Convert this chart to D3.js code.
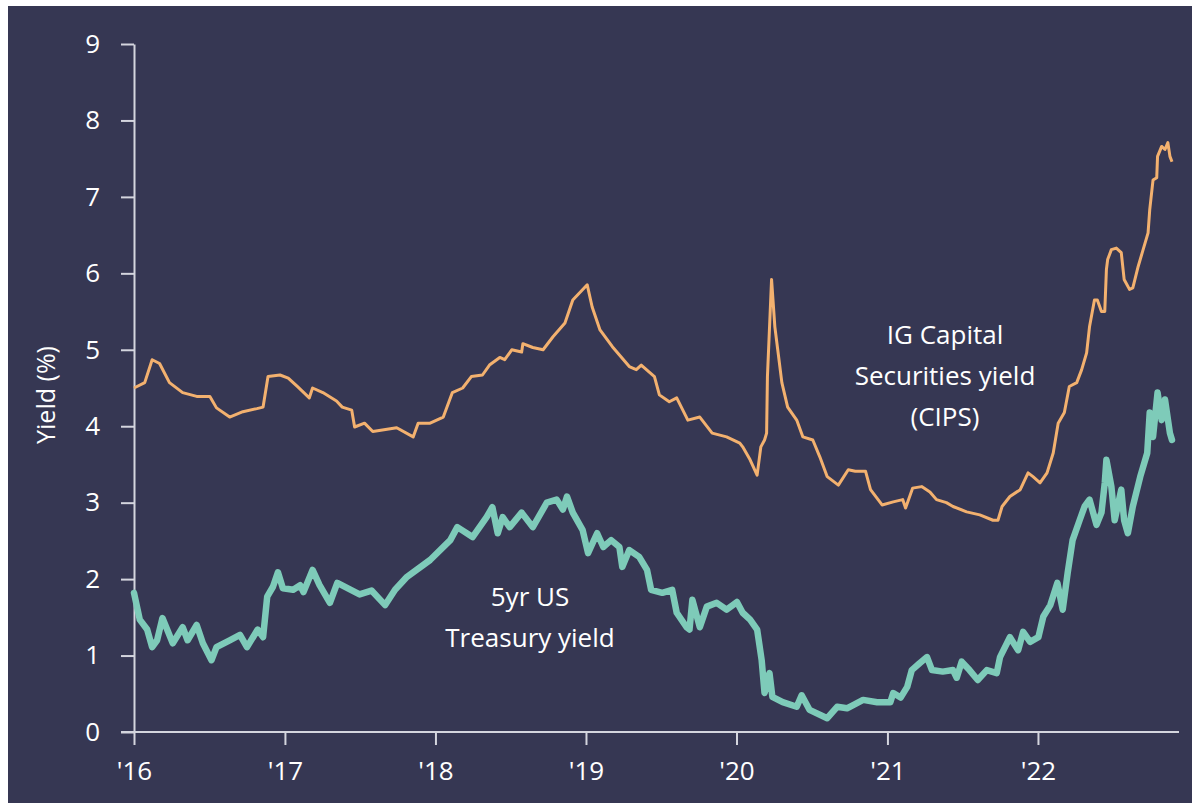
<!DOCTYPE html>
<html>
<head>
<meta charset="utf-8">
<script src="https://cdn.jsdelivr.net/npm/d3@7"></script>
<style>
  body { margin: 0; background: #ffffff; }
  text { font-family: "Open Sans", sans-serif; }
</style>
</head>
<body>
<svg id="chart" width="1192" height="803"></svg>
<script>
// IG Capital Securities yield (CIPS)
var cipsDates = ['2016-01-01','2016-01-27','2016-02-14','2016-03-03','2016-03-27','2016-04-28','2016-06-01','2016-07-03','2016-07-19','2016-08-20','2016-09-21','2016-10-25','2016-11-09','2016-11-21','2016-12-20','2017-01-09','2017-01-31','2017-03-01','2017-03-09','2017-04-03','2017-05-06','2017-05-20','2017-06-12','2017-06-19','2017-07-13','2017-08-02','2017-09-29','2017-11-08','2017-11-20','2017-12-19','2018-01-20','2018-02-11','2018-03-08','2018-03-29','2018-04-25','2018-05-12','2018-06-06','2018-06-18','2018-07-05','2018-07-29','2018-08-01','2018-08-25','2018-09-19','2018-10-13','2018-11-11','2018-11-30','2019-01-04','2019-01-16','2019-02-04','2019-03-06','2019-04-16','2019-05-03','2019-05-15','2019-06-16','2019-06-28','2019-07-22','2019-08-09','2019-09-05','2019-10-04','2019-11-03','2019-12-08','2020-01-09','2020-01-16','2020-02-03','2020-02-20','2020-02-29','2020-03-09','2020-03-14','2020-03-16','2020-03-26','2020-04-03','2020-04-10','2020-04-20','2020-05-04','2020-05-26','2020-06-10','2020-07-04','2020-07-21','2020-08-08','2020-09-04','2020-09-28','2020-10-15','2020-11-09','2020-11-21','2020-12-19','2021-01-15','2021-02-07','2021-02-14','2021-03-03','2021-03-25','2021-04-14','2021-04-30','2021-05-24','2021-06-09','2021-07-12','2021-08-13','2021-09-14','2021-09-26','2021-10-06','2021-10-25','2021-11-19','2021-12-08','2021-12-20','2022-01-06','2022-01-23','2022-02-07','2022-02-19','2022-03-06','2022-03-18','2022-04-05','2022-04-17','2022-04-29','2022-05-06','2022-05-18','2022-05-25','2022-06-04','2022-06-12','2022-06-16','2022-06-19','2022-06-28','2022-07-10','2022-07-22','2022-07-29','2022-08-11','2022-08-19','2022-09-01','2022-09-13','2022-09-25','2022-09-29','2022-10-07','2022-10-16','2022-10-18','2022-10-28','2022-11-05','2022-11-12','2022-11-17','2022-11-22'];
var cipsValues = [4.50,4.57,4.87,4.82,4.57,4.44,4.39,4.39,4.24,4.12,4.19,4.23,4.25,4.65,4.67,4.63,4.52,4.37,4.50,4.44,4.33,4.25,4.21,3.99,4.04,3.93,3.98,3.86,4.04,4.04,4.12,4.44,4.50,4.65,4.67,4.80,4.90,4.87,5.00,4.97,5.08,5.03,5.00,5.17,5.35,5.65,5.85,5.56,5.26,5.04,4.78,4.74,4.80,4.65,4.41,4.32,4.37,4.08,4.12,3.91,3.86,3.78,3.73,3.56,3.36,3.73,3.82,3.91,4.65,5.92,5.30,5.00,4.57,4.25,4.08,3.86,3.82,3.60,3.34,3.23,3.43,3.41,3.41,3.17,2.97,3.01,3.04,2.93,3.19,3.21,3.14,3.04,3.00,2.95,2.88,2.84,2.77,2.77,2.95,3.08,3.17,3.39,3.34,3.26,3.39,3.65,4.04,4.18,4.52,4.57,4.74,4.96,5.30,5.65,5.65,5.50,5.50,6.05,6.18,6.31,6.33,6.27,5.92,5.79,5.81,6.09,6.31,6.53,6.83,7.22,7.25,7.53,7.66,7.62,7.71,7.53,7.46];

// 5yr US Treasury yield
var ustDates = ['2016-01-01','2016-01-15','2016-02-02','2016-02-14','2016-02-26','2016-03-10','2016-04-04','2016-04-28','2016-05-10','2016-06-01','2016-06-16','2016-07-07','2016-07-19','2016-08-20','2016-09-14','2016-10-01','2016-10-27','2016-11-09','2016-11-19','2016-12-03','2016-12-15','2016-12-27','2017-01-21','2017-02-07','2017-02-15','2017-03-09','2017-03-26','2017-04-20','2017-05-08','2017-07-01','2017-07-30','2017-09-01','2017-09-25','2017-10-24','2017-12-19','2018-02-06','2018-02-23','2018-04-01','2018-05-05','2018-05-19','2018-06-01','2018-06-13','2018-06-30','2018-07-29','2018-08-25','2018-09-28','2018-10-22','2018-11-06','2018-11-16','2018-11-30','2018-12-24','2019-01-06','2019-01-28','2019-02-12','2019-03-03','2019-03-23','2019-03-30','2019-04-16','2019-05-10','2019-05-29','2019-06-08','2019-07-05','2019-07-29','2019-08-09','2019-09-02','2019-09-09','2019-09-16','2019-10-04','2019-10-21','2019-11-14','2019-12-08','2020-01-02','2020-01-16','2020-02-03','2020-02-20','2020-03-02','2020-03-09','2020-03-21','2020-03-28','2020-04-22','2020-05-26','2020-06-07','2020-06-26','2020-08-08','2020-09-01','2020-09-25','2020-11-03','2020-12-07','2021-01-08','2021-01-15','2021-02-02','2021-02-18','2021-03-01','2021-03-20','2021-04-07','2021-04-19','2021-05-15','2021-06-09','2021-06-18','2021-06-30','2021-07-19','2021-08-08','2021-08-30','2021-09-23','2021-10-01','2021-10-25','2021-11-14','2021-11-26','2021-12-13','2022-01-02','2022-01-14','2022-01-31','2022-02-17','2022-03-02','2022-03-14','2022-03-26','2022-04-12','2022-04-24','2022-05-06','2022-05-23','2022-06-04','2022-06-12','2022-06-16','2022-06-28','2022-07-06','2022-07-22','2022-07-29','2022-08-07','2022-08-19','2022-09-06','2022-09-23','2022-09-29','2022-10-07','2022-10-18','2022-10-28','2022-11-05','2022-11-17','2022-11-22'];
var ustValues = [1.82,1.47,1.34,1.11,1.20,1.49,1.16,1.37,1.20,1.40,1.16,0.94,1.11,1.20,1.27,1.11,1.34,1.24,1.77,1.90,2.09,1.88,1.86,1.92,1.83,2.12,1.92,1.69,1.95,1.80,1.85,1.66,1.86,2.03,2.25,2.51,2.68,2.55,2.81,2.94,2.60,2.81,2.68,2.87,2.68,3.00,3.04,2.91,3.08,2.87,2.64,2.34,2.60,2.42,2.51,2.42,2.16,2.38,2.29,2.12,1.86,1.82,1.86,1.56,1.37,1.34,1.73,1.37,1.64,1.69,1.60,1.70,1.56,1.47,1.34,0.94,0.51,0.77,0.46,0.39,0.33,0.48,0.29,0.18,0.33,0.31,0.42,0.39,0.39,0.51,0.45,0.59,0.81,0.90,0.98,0.81,0.79,0.81,0.71,0.92,0.81,0.68,0.81,0.77,0.98,1.24,1.07,1.31,1.18,1.24,1.51,1.66,1.95,1.60,2.08,2.51,2.77,2.95,3.04,2.71,2.87,3.26,3.56,3.21,2.77,3.17,2.77,2.60,2.95,3.34,3.65,4.18,3.86,4.44,4.08,4.35,3.91,3.82];

var yTicks = [0, 1, 2, 3, 4, 5, 6, 7, 8, 9];
var xTickYears = ['2016','2017','2018','2019','2020','2021','2022'];

var svg = d3.select('#chart');
var parse = d3.timeParse('%Y-%m-%d');

// navy panel (picture has a thin white strip top and left)
svg.append('rect').attr('x', 8).attr('y', 6).attr('width', 1184).attr('height', 797).attr('fill', '#363753');

var x = d3.scaleTime()
  .domain([parse('2016-01-01'), parse('2022-12-09')])
  .range([134, 1179]);
var y = d3.scaleLinear().domain([0, 9]).range([732, 44]);

function pairs(dates, values) {
  return dates.map(function (d, i) { return { date: parse(d), value: values[i] }; });
}

// axes
var axisColor = '#d4d5de';
var yAxis = svg.append('g').attr('transform', 'translate(134,0)')
  .call(d3.axisLeft(y).tickValues(yTicks).tickSize(13).tickSizeOuter(0).tickPadding(21));
var xAxis = svg.append('g').attr('transform', 'translate(0,732)')
  .call(d3.axisBottom(x)
    .tickValues(xTickYears.map(function (s) { return parse(s + '-01-01'); }))
    .tickFormat(function (d) { return "'" + d3.timeFormat('%y')(d); })
    .tickSize(13).tickSizeOuter(0).tickPadding(17));

[yAxis, xAxis].forEach(function (g) {
  g.selectAll('path, line').attr('stroke', axisColor).attr('stroke-width', 2);
  g.selectAll('text').attr('fill', '#ffffff').style('font-size', '26px');
});
// x axis line runs a bit left of the y axis
xAxis.select('.domain').attr('d', 'M121,0H1179');

svg.append('text')
  .attr('transform', 'translate(55,395) rotate(-90)')
  .attr('text-anchor', 'middle')
  .attr('fill', '#ffffff')
  .style('font-size', '25px')
  .text('Yield (%)');

var line = d3.line()
  .x(function (d) { return x(d.date); })
  .y(function (d) { return y(d.value); })
  .curve(d3.curveLinear);

svg.append('path')
  .datum(pairs(ustDates, ustValues))
  .attr('fill', 'none')
  .attr('stroke', '#7ecbb9')
  .attr('stroke-width', 6.5)
  .attr('stroke-linejoin', 'round')
  .attr('stroke-linecap', 'round')
  .attr('d', line);

svg.append('path')
  .datum(pairs(cipsDates, cipsValues))
  .attr('fill', 'none')
  .attr('stroke', '#f3b16f')
  .attr('stroke-width', 3)
  .attr('stroke-linejoin', 'round')
  .attr('d', line);

// series labels
function label(lines, cx, y0) {
  var t = svg.append('text').attr('text-anchor', 'middle').attr('fill', '#ffffff').style('font-size', '26px');
  lines.forEach(function (s, i) {
    t.append('tspan').attr('x', cx).attr('y', y0 + i * 41).text(s);
  });
}
label(['IG Capital', 'Securities yield', '(CIPS)'], 945, 344);
label(['5yr US', 'Treasury yield'], 530, 606);
</script>
</body>
</html>
